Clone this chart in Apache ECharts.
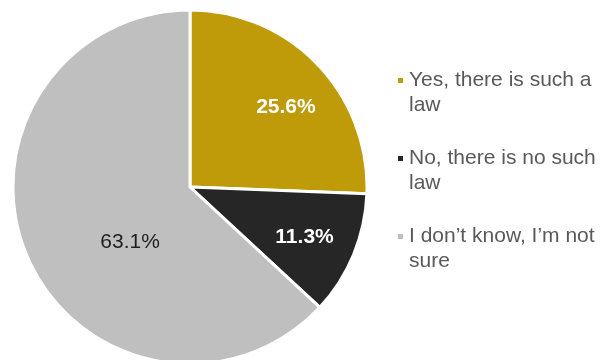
<!DOCTYPE html>
<html>
<head>
<meta charset="utf-8">
<script src="https://cdn.jsdelivr.net/npm/echarts@6/dist/echarts.min.js"></script>
<style>
  html, body { margin: 0; padding: 0; background: #fff; }
  #main { width: 608px; height: 360px; }
</style>
</head>
<body>
<div id="main"></div>
<script>
var categories = ['Yes, there is such a law', 'No, there is no such law', 'I don\u2019t know, I\u2019m not sure'];
var legendLines = ['Yes, there is such a\nlaw', 'No, there is no such\nlaw', 'I don\u2019t know, I\u2019m not\nsure'];
var values = [25.6, 11.3, 63.1];
var colors = ['#BF9B0A', '#262626', '#BFBFBF'];

var chart = echarts.init(document.getElementById('main'));

// label nudges so they sit where the original has them
var labelStyles = [
  { color: '#fff', fontWeight: 'bold', offset: [30, -16] },
  { color: '#fff', fontWeight: 'bold', offset: [30, 15] },
  { color: '#1f1f1f', fontWeight: 'normal', offset: [24, 19] }
];

var pieData = categories.map(function (name, i) {
  return {
    name: name,
    value: values[i],
    itemStyle: { color: colors[i] },
    label: labelStyles[i]
  };
});

option = {
  backgroundColor: '#fff',
  animation: false,
  legend: {
    orient: 'vertical',
    left: 391,
    top: 38,
    itemWidth: 7,
    itemHeight: 7,
    itemGap: 3,
    icon: 'rect',
    textGap: 6,
    selectedMode: false,
    // blank first line keeps the marker level with the first text line
    formatter: function (name) {
      return ' \n' + legendLines[categories.indexOf(name)];
    },
    textStyle: {
      fontFamily: 'Liberation Sans, Arial, sans-serif',
      fontSize: 21,
      lineHeight: 25,
      color: '#595959'
    },
    data: categories
  },
  series: [{
    type: 'pie',
    center: [190, 187],
    radius: 177,
    startAngle: 90,
    clockwise: true,
    silent: true,
    itemStyle: { borderColor: '#fff', borderWidth: 3 },
    label: {
      show: true,
      position: 'inside',
      fontFamily: 'Liberation Sans, Arial, sans-serif',
      fontSize: 21,
      formatter: function (p) { return p.value.toFixed(1) + '%'; }
    },
    labelLine: { show: false },
    data: pieData
  }]
};

chart.setOption(option);
</script>
</body>
</html>
